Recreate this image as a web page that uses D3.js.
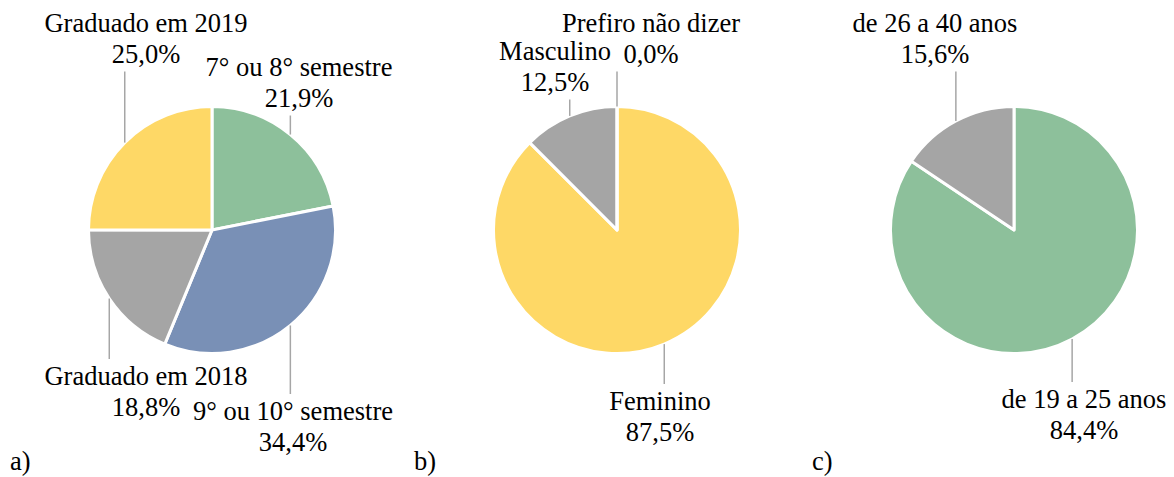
<!DOCTYPE html>
<html>
<head>
<meta charset="utf-8">
<script src="https://cdn.jsdelivr.net/npm/d3@7"></script>
<style>
  body { margin: 0; background: #fff; }
</style>
</head>
<body>
<div id="chart"></div>
<script>
// data
const semestreLabels = ["7° ou 8° semestre", "9° ou 10° semestre", "Graduado em 2018", "Graduado em 2019"];
const semestreValues = [21.9, 34.4, 18.8, 25.0];
const semestreColors = ["#8dc09b", "#7990b6", "#a5a5a5", "#fed866"];

const generoLabels = ["Feminino", "Masculino", "Prefiro não dizer"];
const generoValues = [87.5, 12.5, 0.0];
const generoColors = ["#fed866", "#a5a5a5", "#a5a5a5"];

const idadeLabels = ["de 19 a 25 anos", "de 26 a 40 anos"];
const idadeValues = [84.4, 15.6];
const idadeColors = ["#8dc09b", "#a5a5a5"];

const panelTags = ["a)", "b)", "c)"];

const width = 1174, height = 477;
const r = 123.5;
const lineH = 30.5;
const font = "Liberation Serif";
const fontSize = 26.5;

const svg = d3.select("#chart").append("svg")
  .attr("width", width)
  .attr("height", height);

const fmt = v => v.toFixed(1).replace(".", ",") + "%";

function addText(x, y, s, anchor) {
  return svg.append("text")
    .attr("x", x).attr("y", y)
    .attr("text-anchor", anchor || "start")
    .attr("font-family", font)
    .attr("font-size", fontSize)
    .attr("fill", "#000")
    .text(s);
}

// label placement (center x, first baseline) per slice
const panels = [
  { cx: 212, cy: 230, tagX: 10, labels: semestreLabels, values: semestreValues, colors: semestreColors,
    place: [[299, 76], [293, 420], [146, 385], [146, 32]] },
  { cx: 617, cy: 230, tagX: 414, labels: generoLabels, values: generoValues, colors: generoColors,
    place: [[660, 410], [555, 60], [651, 32]] },
  { cx: 1014, cy: 230, tagX: 812, labels: idadeLabels, values: idadeValues, colors: idadeColors,
    place: [[1084, 408], [935, 32]] }
];

const pie = d3.pie().sort(null).value(d => d);
const arc = d3.arc().innerRadius(0).outerRadius(r);

panels.forEach((p, i) => {
  const g = svg.append("g").attr("transform", `translate(${p.cx},${p.cy})`);
  const arcs = pie(p.values);

  g.selectAll("path.slice")
    .data(arcs)
    .enter()
    .append("path")
    .attr("class", "slice")
    .attr("d", arc)
    .attr("fill", (d, j) => p.colors[j])
    .attr("stroke", "#fff")
    .attr("stroke-width", 3)
    .attr("stroke-linejoin", "round");

  arcs.forEach((d, j) => {
    const mid = (d.startAngle + d.endAngle) / 2;
    const x0 = r * Math.sin(mid);
    const y0 = -r * Math.cos(mid);
    const [lx, ly] = p.place[j];
    const above = ly < p.cy;
    const yEnd = above ? ly + lineH + 9 - p.cy : ly - 26 - p.cy;

    g.append("line")
      .attr("x1", x0).attr("y1", y0)
      .attr("x2", x0).attr("y2", yEnd)
      .attr("stroke", "#a6a6a6")
      .attr("stroke-width", 1.5);

    addText(lx, ly, p.labels[j], "middle");
    addText(lx, ly + lineH, fmt(p.values[j]), "middle");
  });

  addText(p.tagX, 470, panelTags[i]);
});
</script>
</body>
</html>
